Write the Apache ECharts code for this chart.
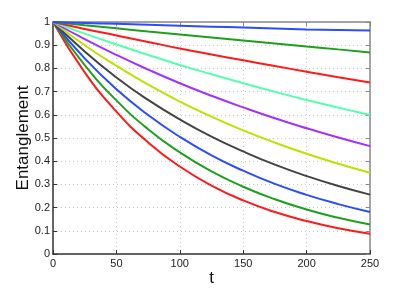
<!DOCTYPE html>
<html>
<head>
<meta charset="utf-8">
<script src="https://cdn.jsdelivr.net/npm/echarts@6/dist/echarts.min.js"></script>
<style>html,body{margin:0;padding:0;background:#fff}#c{width:409px;height:292px}</style>
</head>
<body>
<div id="c"></div>
<script>
const tValues = [0, 25, 50, 75, 100, 125, 150, 175, 200, 225, 250];
const xTicks = [0, 50, 100, 150, 200, 250];
const yTicks = [0, 0.1, 0.2, 0.3, 0.4, 0.5, 0.6, 0.7, 0.8, 0.9, 1];
const curve1 = [1, 0.996, 0.992, 0.988, 0.984, 0.980, 0.976, 0.972, 0.968, 0.965, 0.963];
const curve2 = [1, 0.986, 0.973, 0.959, 0.946, 0.933, 0.920, 0.907, 0.894, 0.882, 0.869];
const curve3 = [1, 0.970, 0.942, 0.914, 0.886, 0.860, 0.835, 0.810, 0.786, 0.762, 0.739];
const curve4 = [1, 0.950, 0.903, 0.858, 0.815, 0.775, 0.736, 0.699, 0.664, 0.631, 0.599];
const curve5 = [1, 0.926, 0.858, 0.795, 0.736, 0.682, 0.632, 0.585, 0.542, 0.502, 0.465];
const curve6 = [1, 0.900, 0.811, 0.730, 0.657, 0.592, 0.533, 0.480, 0.432, 0.389, 0.350];
const curve7 = [1, 0.873, 0.761, 0.664, 0.580, 0.506, 0.442, 0.385, 0.336, 0.293, 0.256];
const curve8 = [1, 0.843, 0.710, 0.599, 0.505, 0.425, 0.359, 0.302, 0.255, 0.215, 0.181];
const curve9 = [1, 0.814, 0.662, 0.538, 0.438, 0.356, 0.290, 0.236, 0.192, 0.156, 0.127];
const curve10 = [1, 0.783, 0.614, 0.481, 0.377, 0.295, 0.231, 0.181, 0.142, 0.111, 0.087];
const curves = [curve1, curve2, curve3, curve4, curve5, curve6, curve7, curve8, curve9, curve10];
const colors = ['#2b4cff', '#1ea01e', '#ff1a1a', '#55ffb0', '#a033ff', '#bfe000', '#444444', '#2b4cff', '#1ea01e', '#ff1a1a'];

const chart = echarts.init(document.getElementById('c'), null, {renderer: 'canvas'});
const font = 'Liberation Sans, Arial, sans-serif';
chart.setOption({
  animation: false,
  backgroundColor: '#fff',
  grid: {left: 53, right: 39, top: 22, bottom: 33, containLabel: false},
  xAxis: [{
    type: 'value', min: 0, max: 250, interval: 50,
    name: 't', nameLocation: 'middle', nameGap: 16, nameMoveOverlap: false,
    nameTextStyle: {fontFamily: font, fontSize: 17, color: '#111'},
    axisLine: {show: true, onZero: false, lineStyle: {color: '#333', width: 1.5}},
    axisTick: {show: true, inside: true, length: 4, lineStyle: {color: '#333'}},
    axisLabel: {fontFamily: font, fontSize: 11, color: '#222', margin: 4},
    splitLine: {show: true, lineStyle: {color: '#c8c8c8', type: [1, 3], width: 1}}
  }, {
    type: 'value', min: 0, max: 250, interval: 50, position: 'top',
    axisLine: {show: true, onZero: false, lineStyle: {color: '#888', width: 1.5}},
    axisTick: {show: true, inside: true, length: 4, lineStyle: {color: '#888'}},
    axisLabel: {show: false}, splitLine: {show: false}
  }],
  yAxis: [{
    type: 'value', min: 0, max: 1, interval: 0.1,
    name: 'Entanglement', nameLocation: 'middle', nameGap: 21, nameMoveOverlap: false,
    nameTextStyle: {fontFamily: font, fontSize: 17, color: '#111'},
    axisLine: {show: true, onZero: false, lineStyle: {color: '#333', width: 1.5}},
    axisTick: {show: true, inside: true, length: 4, lineStyle: {color: '#333'}},
    axisLabel: {fontFamily: font, fontSize: 11, color: '#222', margin: 3,
      formatter: v => String(Math.round(v * 10) / 10)},
    splitLine: {show: true, lineStyle: {color: '#c8c8c8', type: [1, 3], width: 1}}
  }, {
    type: 'value', min: 0, max: 1, interval: 0.1, position: 'right',
    axisLine: {show: true, onZero: false, lineStyle: {color: '#888', width: 1.5}},
    axisTick: {show: true, inside: true, length: 4, lineStyle: {color: '#888'}},
    axisLabel: {show: false}, splitLine: {show: false}
  }],
  series: curves.map((c, i) => ({
    type: 'line', xAxisIndex: 0, yAxisIndex: 0,
    data: tValues.map((t, j) => [t, c[j]]),
    smooth: true, showSymbol: false, symbol: 'none',
    lineStyle: {color: colors[i], width: 2},
    z: 10 - i
  }))
});
</script>
</body>
</html>
